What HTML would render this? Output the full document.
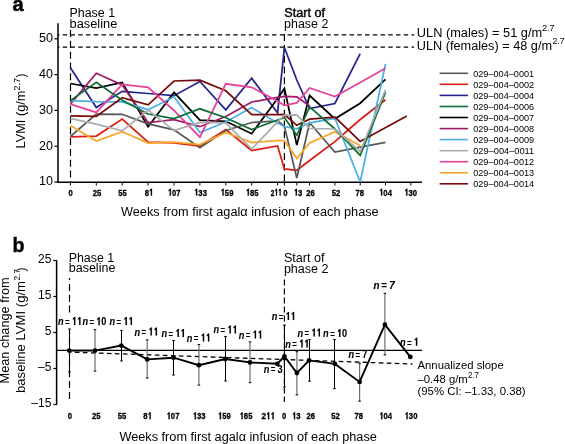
<!DOCTYPE html><html><head><meta charset="utf-8"><style>html,body{margin:0;padding:0;background:#fff;overflow:hidden}svg{display:block;will-change:transform}text{font-family:"Liberation Sans",sans-serif;fill:#000}</style></head><body>
<svg width="565" height="444" viewBox="0 0 565 444">
<rect width="565" height="444" fill="#fff"/>
<text x="12.4" y="10.5" font-size="20.5" font-weight="bold" textLength="11.2" lengthAdjust="spacingAndGlyphs" stroke="#111" stroke-width="0.5">a</text>
<path d="M58 23.2V182.2H422" fill="none" stroke="#000" stroke-width="1.5"/>
<path d="M54.4 182.0H58" stroke="#000" stroke-width="1.2"/>
<text x="53" y="185.4" font-size="12" text-anchor="end" textLength="14.0" lengthAdjust="spacingAndGlyphs">10</text>
<path d="M54.4 146.2H58" stroke="#000" stroke-width="1.2"/>
<text x="53" y="149.6" font-size="12" text-anchor="end" textLength="14.0" lengthAdjust="spacingAndGlyphs">20</text>
<path d="M54.4 110.4H58" stroke="#000" stroke-width="1.2"/>
<text x="53" y="113.8" font-size="12" text-anchor="end" textLength="14.0" lengthAdjust="spacingAndGlyphs">30</text>
<path d="M54.4 74.6H58" stroke="#000" stroke-width="1.2"/>
<text x="53" y="78.0" font-size="12" text-anchor="end" textLength="14.0" lengthAdjust="spacingAndGlyphs">40</text>
<path d="M54.4 38.8H58" stroke="#000" stroke-width="1.2"/>
<text x="53" y="42.2" font-size="12" text-anchor="end" textLength="14.0" lengthAdjust="spacingAndGlyphs">50</text>
<path d="M70.4 182V185.5" stroke="#000" stroke-width="1"/>
<g transform="translate(70.60,195.60) scale(0.8,1)" fill="#000" stroke="#000" stroke-width="0.3"><text x="-2.67" y="0" font-size="9.6" font-weight="bold">0</text></g>
<path d="M96.3 182V185.5" stroke="#000" stroke-width="1"/>
<g transform="translate(97.00,195.60) scale(0.8,1)" fill="#000" stroke="#000" stroke-width="0.3"><text x="-5.34" y="0" font-size="9.6" font-weight="bold">2</text><text x="0.00" y="0" font-size="9.6" font-weight="bold">5</text></g>
<path d="M122.2 182V185.5" stroke="#000" stroke-width="1"/>
<g transform="translate(122.60,195.60) scale(0.8,1)" fill="#000" stroke="#000" stroke-width="0.3"><text x="-5.34" y="0" font-size="9.6" font-weight="bold">5</text><text x="0.00" y="0" font-size="9.6" font-weight="bold">5</text></g>
<path d="M148.1 182V185.5" stroke="#000" stroke-width="1"/>
<g transform="translate(148.90,195.60) scale(0.8,1)" fill="#000" stroke="#000" stroke-width="0.3"><text x="-5.34" y="0" font-size="9.6" font-weight="bold">8</text><path d="M2.40 0.00 L3.84 0.00 L3.84 -6.87 L2.78 -6.87 L1.15 -5.57 L1.15 -4.42 L2.40 -5.09Z"/></g>
<path d="M174.0 182V185.5" stroke="#000" stroke-width="1"/>
<g transform="translate(174.20,195.60) scale(0.8,1)" fill="#000" stroke="#000" stroke-width="0.3"><path d="M-5.61 0.00 L-4.17 0.00 L-4.17 -6.87 L-5.22 -6.87 L-6.85 -5.57 L-6.85 -4.42 L-5.61 -5.09Z"/><text x="-2.67" y="0" font-size="9.6" font-weight="bold">0</text><text x="2.67" y="0" font-size="9.6" font-weight="bold">7</text></g>
<path d="M199.9 182V185.5" stroke="#000" stroke-width="1"/>
<g transform="translate(200.50,195.60) scale(0.8,1)" fill="#000" stroke="#000" stroke-width="0.3"><path d="M-5.61 0.00 L-4.17 0.00 L-4.17 -6.87 L-5.22 -6.87 L-6.85 -5.57 L-6.85 -4.42 L-5.61 -5.09Z"/><text x="-2.67" y="0" font-size="9.6" font-weight="bold">3</text><text x="2.67" y="0" font-size="9.6" font-weight="bold">3</text></g>
<path d="M225.8 182V185.5" stroke="#000" stroke-width="1"/>
<g transform="translate(227.00,195.60) scale(0.8,1)" fill="#000" stroke="#000" stroke-width="0.3"><path d="M-5.61 0.00 L-4.17 0.00 L-4.17 -6.87 L-5.22 -6.87 L-6.85 -5.57 L-6.85 -4.42 L-5.61 -5.09Z"/><text x="-2.67" y="0" font-size="9.6" font-weight="bold">5</text><text x="2.67" y="0" font-size="9.6" font-weight="bold">9</text></g>
<path d="M251.7 182V185.5" stroke="#000" stroke-width="1"/>
<g transform="translate(252.20,195.60) scale(0.8,1)" fill="#000" stroke="#000" stroke-width="0.3"><path d="M-5.61 0.00 L-4.17 0.00 L-4.17 -6.87 L-5.22 -6.87 L-6.85 -5.57 L-6.85 -4.42 L-5.61 -5.09Z"/><text x="-2.67" y="0" font-size="9.6" font-weight="bold">8</text><text x="2.67" y="0" font-size="9.6" font-weight="bold">5</text></g>
<path d="M277.6 182V185.5" stroke="#000" stroke-width="1"/>
<g transform="translate(276.20,195.60) scale(0.68,1)" fill="#000" stroke="#000" stroke-width="0.3"><text x="-8.01" y="0" font-size="9.6" font-weight="bold">2</text><path d="M-0.27 0.00 L1.17 0.00 L1.17 -6.87 L0.12 -6.87 L-1.52 -5.57 L-1.52 -4.42 L-0.27 -5.09Z"/><path d="M5.07 0.00 L6.51 0.00 L6.51 -6.87 L5.45 -6.87 L3.82 -5.57 L3.82 -4.42 L5.07 -5.09Z"/></g>
<path d="M284.4 182V185.5" stroke="#000" stroke-width="1"/>
<g transform="translate(285.30,195.60) scale(0.8,1)" fill="#000" stroke="#000" stroke-width="0.3"><text x="-2.67" y="0" font-size="9.6" font-weight="bold">0</text></g>
<path d="M296.8 182V185.5" stroke="#000" stroke-width="1"/>
<g transform="translate(298.10,195.60) scale(0.8,1)" fill="#000" stroke="#000" stroke-width="0.3"><path d="M-2.94 0.00 L-1.50 0.00 L-1.50 -6.87 L-2.55 -6.87 L-4.19 -5.57 L-4.19 -4.42 L-2.94 -5.09Z"/><text x="0.00" y="0" font-size="9.6" font-weight="bold">3</text></g>
<path d="M309.6 182V185.5" stroke="#000" stroke-width="1"/>
<g transform="translate(310.50,195.60) scale(0.8,1)" fill="#000" stroke="#000" stroke-width="0.3"><text x="-5.34" y="0" font-size="9.6" font-weight="bold">2</text><text x="0.00" y="0" font-size="9.6" font-weight="bold">6</text></g>
<path d="M334.9 182V185.5" stroke="#000" stroke-width="1"/>
<g transform="translate(335.90,195.60) scale(0.8,1)" fill="#000" stroke="#000" stroke-width="0.3"><text x="-5.34" y="0" font-size="9.6" font-weight="bold">5</text><text x="0.00" y="0" font-size="9.6" font-weight="bold">2</text></g>
<path d="M360.2 182V185.5" stroke="#000" stroke-width="1"/>
<g transform="translate(359.80,195.60) scale(0.8,1)" fill="#000" stroke="#000" stroke-width="0.3"><text x="-5.34" y="0" font-size="9.6" font-weight="bold">7</text><text x="0.00" y="0" font-size="9.6" font-weight="bold">8</text></g>
<path d="M385.5 182V185.5" stroke="#000" stroke-width="1"/>
<g transform="translate(385.50,195.60) scale(0.8,1)" fill="#000" stroke="#000" stroke-width="0.3"><path d="M-5.61 0.00 L-4.17 0.00 L-4.17 -6.87 L-5.22 -6.87 L-6.85 -5.57 L-6.85 -4.42 L-5.61 -5.09Z"/><text x="-2.67" y="0" font-size="9.6" font-weight="bold">0</text><text x="2.67" y="0" font-size="9.6" font-weight="bold">4</text></g>
<path d="M410.8 182V185.5" stroke="#000" stroke-width="1"/>
<g transform="translate(410.70,195.60) scale(0.8,1)" fill="#000" stroke="#000" stroke-width="0.3"><path d="M-5.61 0.00 L-4.17 0.00 L-4.17 -6.87 L-5.22 -6.87 L-6.85 -5.57 L-6.85 -4.42 L-5.61 -5.09Z"/><text x="-2.67" y="0" font-size="9.6" font-weight="bold">3</text><text x="2.67" y="0" font-size="9.6" font-weight="bold">0</text></g>
<path d="M58 34.9H414.1M58 47.2H414.1" stroke="#000" stroke-width="1.3" stroke-dasharray="4.4 3.35" stroke-dashoffset="2.95"/>
<path d="M70.5 29.8V182" stroke="#000" stroke-width="1.2" stroke-dasharray="7 3.8" stroke-dashoffset="10.5"/><path d="M284.4 31.6V182" stroke="#000" stroke-width="1.2" stroke-dasharray="7 3.8" stroke-dashoffset="8.3"/>
<path d="M70.4 67.7 L96.3 107.6 L122.2 91.3 L148.1 93.5 L174.0 95.7 L199.9 81.5 L225.8 109.8 L251.7 78.2 L277.6 112.9 L284.4 47.5 L296.8 80.0 L309.6 108.5 L334.9 103.5 L360.2 53.6" fill="none" stroke="#26248f" stroke-width="1.75" stroke-linejoin="miter" stroke-miterlimit="3"/>
<path d="M70.4 83.5 L96.3 88.0 L122.2 82.4 L148.1 126.7 L174.0 92.4 L199.9 120.2 L225.8 121.3 L251.7 133.7 L277.6 98.5 L284.4 88.5 L296.8 145.1 L309.6 95.5 L334.9 118.8 L360.2 103.2 L385.5 79.4" fill="none" stroke="#000000" stroke-width="1.75" stroke-linejoin="miter" stroke-miterlimit="3"/>
<path d="M70.4 136.9 L96.3 136.1 L122.2 119.0 L148.1 142.1 L174.0 142.8 L199.9 146.0 L225.8 129.6 L251.7 150.5 L277.6 145.9 L284.4 168.9 L296.8 170.3 L309.6 160.5 L334.9 141.6 L360.2 119.5 L385.5 99.8" fill="none" stroke="#dc1d12" stroke-width="1.75" stroke-linejoin="miter" stroke-miterlimit="3"/>
<path d="M70.4 136.5 L96.3 114.1 L122.2 114.3 L148.1 123.9 L174.0 129.8 L199.9 147.7 L225.8 130.5 L251.7 122.5 L277.6 120.9 L284.4 126.2 L296.8 178.0 L309.6 122.8 L334.9 152.1 L360.2 147.2 L385.5 142.4" fill="none" stroke="#585858" stroke-width="1.75" stroke-linejoin="miter" stroke-miterlimit="3"/>
<path d="M70.4 104.1 L96.3 73.3 L122.2 84.9 L148.1 122.5 L174.0 119.7 L199.9 126.7 L225.8 116.5 L251.7 102.0 L277.6 97.3 L284.4 96.3 L296.8 96.9 L309.6 106.0" fill="none" stroke="#9e1a66" stroke-width="1.75" stroke-linejoin="miter" stroke-miterlimit="3"/>
<path d="M70.4 100.6 L96.3 101.7 L122.2 101.9 L148.1 109.7 L174.0 96.8 L199.9 132.5 L225.8 122.0 L251.7 107.6 L277.6 123.0 L284.4 126.5 L296.8 128.8 L309.6 122.8 L334.9 118.3 L360.2 182.0 L385.5 64.0" fill="none" stroke="#4caee4" stroke-width="1.75" stroke-linejoin="miter" stroke-miterlimit="3"/>
<path d="M70.4 115.8 L96.3 116.4 L122.2 97.7 L148.1 104.8 L174.0 81.0 L199.9 80.2 L225.8 90.8 L251.7 114.7 L277.6 114.6 L284.4 114.5 L296.8 125.3 L309.6 119.2 L334.9 117.1 L360.2 141.4 L406.8 116.0" fill="none" stroke="#780a0a" stroke-width="1.75" stroke-linejoin="miter" stroke-miterlimit="3"/>
<path d="M70.4 104.1 L96.3 112.4 L122.2 84.5 L148.1 87.3 L174.0 110.5 L199.9 137.2 L225.8 83.8 L251.7 87.3 L277.6 101.3 L284.4 105.3 L296.8 102.9 L309.6 88.0 L334.9 96.6 L360.2 82.4 L385.5 68.2" fill="none" stroke="#e4449a" stroke-width="1.75" stroke-linejoin="miter" stroke-miterlimit="3"/>
<path d="M70.4 125.6 L96.3 141.0 L122.2 131.6 L148.1 143.0 L174.0 142.1 L199.9 144.5 L225.8 132.5 L251.7 142.5 L277.6 140.7 L284.4 140.7 L296.8 158.6 L309.6 143.0 L334.9 131.8 L360.2 145.5" fill="none" stroke="#f8a628" stroke-width="1.75" stroke-linejoin="miter" stroke-miterlimit="3"/>
<path d="M70.4 100.6 L96.3 82.4 L122.2 100.3 L148.1 114.0 L174.0 118.6 L199.9 108.8 L225.8 117.7 L251.7 129.5 L277.6 120.0 L284.4 117.6 L296.8 135.3 L309.6 106.9 L334.9 129.0 L360.2 155.3 L385.5 92.3" fill="none" stroke="#0f6e34" stroke-width="1.75" stroke-linejoin="miter" stroke-miterlimit="3"/>
<path d="M70.4 118.3 L96.3 124.2 L122.2 130.9 L148.1 110.1 L174.0 130.6 L199.9 122.5 L225.8 122.8 L251.7 149.0 L277.6 121.9 L284.4 115.1 L296.8 114.8 L309.6 128.5 L334.9 129.0 L360.2 151.5 L385.5 89.9" fill="none" stroke="#acacac" stroke-width="1.75" stroke-linejoin="miter" stroke-miterlimit="3"/>
<text x="69.5" y="16.7" font-size="12" textLength="45.6" lengthAdjust="spacingAndGlyphs">Phase 1</text>
<text x="69.5" y="27.6" font-size="12" textLength="47.8" lengthAdjust="spacingAndGlyphs">baseline</text>
<text x="284.2" y="16.6" font-size="12" textLength="40.8" lengthAdjust="spacingAndGlyphs" stroke="#111" stroke-width="0.45">Start of</text>
<text x="284.1" y="27.6" font-size="12" textLength="44.2" lengthAdjust="spacingAndGlyphs">phase 2</text>
<text x="416.8" y="36.6" font-size="12" textLength="125.3" lengthAdjust="spacingAndGlyphs">ULN (males) = 51 g/m</text>
<text x="541.9" y="31.2" font-size="8.6" textLength="12.8" lengthAdjust="spacingAndGlyphs">2.7</text>
<text x="416.8" y="49.9" font-size="12" textLength="135.2" lengthAdjust="spacingAndGlyphs">ULN (females) = 48 g/m</text>
<text x="552.6" y="44.2" font-size="8.6" textLength="11.9" lengthAdjust="spacingAndGlyphs">2.7</text>
<path d="M439.6 73.3H468.1" stroke="#585858" stroke-width="1.6"/>
<text x="473.2" y="76.6" font-size="9" textLength="61" lengthAdjust="spacingAndGlyphs">029–004–0001</text>
<path d="M439.6 84.3H468.1" stroke="#dc1d12" stroke-width="1.6"/>
<text x="473.2" y="87.6" font-size="9" textLength="61" lengthAdjust="spacingAndGlyphs">029–004–0002</text>
<path d="M439.6 95.4H468.1" stroke="#26248f" stroke-width="1.6"/>
<text x="473.2" y="98.7" font-size="9" textLength="61" lengthAdjust="spacingAndGlyphs">029–004–0004</text>
<path d="M439.6 106.5H468.1" stroke="#0f6e34" stroke-width="1.6"/>
<text x="473.2" y="109.8" font-size="9" textLength="61" lengthAdjust="spacingAndGlyphs">029–004–0006</text>
<path d="M439.6 117.5H468.1" stroke="#000000" stroke-width="1.6"/>
<text x="473.2" y="120.8" font-size="9" textLength="61" lengthAdjust="spacingAndGlyphs">029–004–0007</text>
<path d="M439.6 128.6H468.1" stroke="#9e1a66" stroke-width="1.6"/>
<text x="473.2" y="131.9" font-size="9" textLength="61" lengthAdjust="spacingAndGlyphs">029–004–0008</text>
<path d="M439.6 139.6H468.1" stroke="#4caee4" stroke-width="1.6"/>
<text x="473.2" y="142.9" font-size="9" textLength="61" lengthAdjust="spacingAndGlyphs">029–004–0009</text>
<path d="M439.6 150.7H468.1" stroke="#acacac" stroke-width="1.6"/>
<text x="473.2" y="154.0" font-size="9" textLength="61" lengthAdjust="spacingAndGlyphs">029–004–0011</text>
<path d="M439.6 161.7H468.1" stroke="#e4449a" stroke-width="1.6"/>
<text x="473.2" y="165.0" font-size="9" textLength="61" lengthAdjust="spacingAndGlyphs">029–004–0012</text>
<path d="M439.6 172.8H468.1" stroke="#f8a628" stroke-width="1.6"/>
<text x="473.2" y="176.1" font-size="9" textLength="61" lengthAdjust="spacingAndGlyphs">029–004–0013</text>
<path d="M439.6 183.8H468.1" stroke="#780a0a" stroke-width="1.6"/>
<text x="473.2" y="187.1" font-size="9" textLength="61" lengthAdjust="spacingAndGlyphs">029–004–0014</text>
<text transform="translate(24.5,148.4) rotate(-90)" font-size="12.4" textLength="57.8" lengthAdjust="spacingAndGlyphs">LVMI (g/m</text>
<text transform="translate(19.7,90.4) rotate(-90)" font-size="9" textLength="12.4" lengthAdjust="spacingAndGlyphs">2.7</text>
<text transform="translate(24.5,77.5) rotate(-90)" font-size="12.4">)</text>
<text x="121" y="215.9" font-size="12" textLength="257.7" lengthAdjust="spacingAndGlyphs">Weeks from first agalα infusion of each phase</text>
<text x="12.4" y="251.6" font-size="20" font-weight="bold" textLength="12" lengthAdjust="spacingAndGlyphs" stroke="#111" stroke-width="0.4">b</text>
<path d="M56.6 260.3V405" fill="none" stroke="#000" stroke-width="1.5"/>
<path d="M53.3 260.5H56.6" stroke="#000" stroke-width="1.2"/>
<text x="51.4" y="262.8" font-size="12" text-anchor="end">25</text>
<path d="M53.3 296.5H56.6" stroke="#000" stroke-width="1.2"/>
<text x="51.4" y="298.8" font-size="12" text-anchor="end">15</text>
<path d="M53.3 332.5H56.6" stroke="#000" stroke-width="1.2"/>
<text x="51.4" y="334.8" font-size="12" text-anchor="end">5</text>
<path d="M53.3 368.5H56.6" stroke="#000" stroke-width="1.2"/>
<text x="51.4" y="370.8" font-size="12" text-anchor="end">–5</text>
<path d="M53.3 404.5H56.6" stroke="#000" stroke-width="1.2"/>
<text x="51.4" y="406.8" font-size="12" text-anchor="end">–15</text>
<g transform="translate(69.80,419.20) scale(0.8,1)" fill="#000" stroke="#000" stroke-width="0.3"><text x="-2.67" y="0" font-size="9.6" font-weight="bold">0</text></g>
<g transform="translate(96.20,419.20) scale(0.8,1)" fill="#000" stroke="#000" stroke-width="0.3"><text x="-5.34" y="0" font-size="9.6" font-weight="bold">2</text><text x="0.00" y="0" font-size="9.6" font-weight="bold">5</text></g>
<g transform="translate(121.90,419.20) scale(0.8,1)" fill="#000" stroke="#000" stroke-width="0.3"><text x="-5.34" y="0" font-size="9.6" font-weight="bold">5</text><text x="0.00" y="0" font-size="9.6" font-weight="bold">5</text></g>
<g transform="translate(147.60,419.20) scale(0.8,1)" fill="#000" stroke="#000" stroke-width="0.3"><text x="-5.34" y="0" font-size="9.6" font-weight="bold">8</text><path d="M2.40 0.00 L3.84 0.00 L3.84 -6.87 L2.78 -6.87 L1.15 -5.57 L1.15 -4.42 L2.40 -5.09Z"/></g>
<g transform="translate(173.00,419.20) scale(0.8,1)" fill="#000" stroke="#000" stroke-width="0.3"><path d="M-5.61 0.00 L-4.17 0.00 L-4.17 -6.87 L-5.22 -6.87 L-6.85 -5.57 L-6.85 -4.42 L-5.61 -5.09Z"/><text x="-2.67" y="0" font-size="9.6" font-weight="bold">0</text><text x="2.67" y="0" font-size="9.6" font-weight="bold">7</text></g>
<g transform="translate(199.20,419.20) scale(0.8,1)" fill="#000" stroke="#000" stroke-width="0.3"><path d="M-5.61 0.00 L-4.17 0.00 L-4.17 -6.87 L-5.22 -6.87 L-6.85 -5.57 L-6.85 -4.42 L-5.61 -5.09Z"/><text x="-2.67" y="0" font-size="9.6" font-weight="bold">3</text><text x="2.67" y="0" font-size="9.6" font-weight="bold">3</text></g>
<g transform="translate(224.30,419.20) scale(0.8,1)" fill="#000" stroke="#000" stroke-width="0.3"><path d="M-5.61 0.00 L-4.17 0.00 L-4.17 -6.87 L-5.22 -6.87 L-6.85 -5.57 L-6.85 -4.42 L-5.61 -5.09Z"/><text x="-2.67" y="0" font-size="9.6" font-weight="bold">5</text><text x="2.67" y="0" font-size="9.6" font-weight="bold">9</text></g>
<g transform="translate(246.00,419.20) scale(0.8,1)" fill="#000" stroke="#000" stroke-width="0.3"><path d="M-5.61 0.00 L-4.17 0.00 L-4.17 -6.87 L-5.22 -6.87 L-6.85 -5.57 L-6.85 -4.42 L-5.61 -5.09Z"/><text x="-2.67" y="0" font-size="9.6" font-weight="bold">8</text><text x="2.67" y="0" font-size="9.6" font-weight="bold">5</text></g>
<g transform="translate(268.20,419.20) scale(0.84,1)" fill="#000" stroke="#000" stroke-width="0.3"><text x="-8.01" y="0" font-size="9.6" font-weight="bold">2</text><path d="M-0.27 0.00 L1.17 0.00 L1.17 -6.87 L0.12 -6.87 L-1.52 -5.57 L-1.52 -4.42 L-0.27 -5.09Z"/><path d="M5.07 0.00 L6.51 0.00 L6.51 -6.87 L5.45 -6.87 L3.82 -5.57 L3.82 -4.42 L5.07 -5.09Z"/></g>
<g transform="translate(284.20,419.20) scale(0.8,1)" fill="#000" stroke="#000" stroke-width="0.3"><text x="-2.67" y="0" font-size="9.6" font-weight="bold">0</text></g>
<g transform="translate(296.30,419.20) scale(0.8,1)" fill="#000" stroke="#000" stroke-width="0.3"><path d="M-2.94 0.00 L-1.50 0.00 L-1.50 -6.87 L-2.55 -6.87 L-4.19 -5.57 L-4.19 -4.42 L-2.94 -5.09Z"/><text x="0.00" y="0" font-size="9.6" font-weight="bold">3</text></g>
<g transform="translate(310.80,419.20) scale(0.8,1)" fill="#000" stroke="#000" stroke-width="0.3"><text x="-5.34" y="0" font-size="9.6" font-weight="bold">2</text><text x="0.00" y="0" font-size="9.6" font-weight="bold">6</text></g>
<g transform="translate(335.50,419.20) scale(0.8,1)" fill="#000" stroke="#000" stroke-width="0.3"><text x="-5.34" y="0" font-size="9.6" font-weight="bold">5</text><text x="0.00" y="0" font-size="9.6" font-weight="bold">2</text></g>
<g transform="translate(358.70,419.20) scale(0.8,1)" fill="#000" stroke="#000" stroke-width="0.3"><text x="-5.34" y="0" font-size="9.6" font-weight="bold">7</text><text x="0.00" y="0" font-size="9.6" font-weight="bold">8</text></g>
<g transform="translate(385.70,419.20) scale(0.8,1)" fill="#000" stroke="#000" stroke-width="0.3"><path d="M-5.61 0.00 L-4.17 0.00 L-4.17 -6.87 L-5.22 -6.87 L-6.85 -5.57 L-6.85 -4.42 L-5.61 -5.09Z"/><text x="-2.67" y="0" font-size="9.6" font-weight="bold">0</text><text x="2.67" y="0" font-size="9.6" font-weight="bold">4</text></g>
<g transform="translate(411.00,419.20) scale(0.8,1)" fill="#000" stroke="#000" stroke-width="0.3"><path d="M-5.61 0.00 L-4.17 0.00 L-4.17 -6.87 L-5.22 -6.87 L-6.85 -5.57 L-6.85 -4.42 L-5.61 -5.09Z"/><text x="-2.67" y="0" font-size="9.6" font-weight="bold">3</text><text x="2.67" y="0" font-size="9.6" font-weight="bold">0</text></g>
<path d="M69.5 278V313.3" stroke="#000" stroke-width="1.2" stroke-dasharray="7 3.8" stroke-dashoffset="4.9"/><path d="M69.5 329V402" stroke="#000" stroke-width="1.2" stroke-dasharray="7 3.8" stroke-dashoffset="1.9"/><path d="M284.4 279.5V402" stroke="#000" stroke-width="1.2" stroke-dasharray="6 3"/>
<path d="M56.6 350.4H422" stroke="#000" stroke-width="1.3"/>
<path d="M70 352.1L412.5 364.0" stroke="#000" stroke-width="1.3" stroke-dasharray="4.6 3.4" stroke-dashoffset="3.1"/>
<path d="M69.5 329.0V371.9" stroke="#000" stroke-width="1"/>
<path d="M68.2 329.0H70.8M68.2 371.9H70.8" stroke="#000" stroke-width="1"/>
<path d="M95.0 329.7V371.1" stroke="#6e6e6e" stroke-width="1.2"/>
<path d="M93.7 329.7H96.3M93.7 371.1H96.3" stroke="#000" stroke-width="1"/>
<path d="M121.5 330.4V361.0" stroke="#000" stroke-width="1"/>
<path d="M120.2 330.4H122.8M120.2 361.0H122.8" stroke="#000" stroke-width="1"/>
<path d="M147.2 339.9V378.0" stroke="#6e6e6e" stroke-width="1.2"/>
<path d="M145.9 339.9H148.5M145.9 378.0H148.5" stroke="#000" stroke-width="1"/>
<path d="M173.5 340.5V375.0" stroke="#000" stroke-width="1"/>
<path d="M172.2 340.5H174.8M172.2 375.0H174.8" stroke="#000" stroke-width="1"/>
<path d="M198.9 344.6V385.1" stroke="#6e6e6e" stroke-width="1.2"/>
<path d="M197.6 344.6H200.2M197.6 385.1H200.2" stroke="#000" stroke-width="1"/>
<path d="M225.5 336.5V381.0" stroke="#000" stroke-width="1"/>
<path d="M224.2 336.5H226.8M224.2 381.0H226.8" stroke="#000" stroke-width="1"/>
<path d="M250.0 341.9V382.7" stroke="#6e6e6e" stroke-width="1.2"/>
<path d="M248.7 341.9H251.3M248.7 382.7H251.3" stroke="#000" stroke-width="1"/>
<path d="M284.5 325.3V386.9" stroke="#000" stroke-width="1"/>
<path d="M283.2 325.3H285.8M283.2 386.9H285.8" stroke="#000" stroke-width="1"/>
<path d="M296.9 351.7V394.9" stroke="#6e6e6e" stroke-width="1.2"/>
<path d="M295.6 351.7H298.2M295.6 394.9H298.2" stroke="#000" stroke-width="1"/>
<path d="M309.5 339.5V381.2" stroke="#000" stroke-width="1"/>
<path d="M308.2 339.5H310.8M308.2 381.2H310.8" stroke="#000" stroke-width="1"/>
<path d="M334.5 339.6V388.7" stroke="#000" stroke-width="1"/>
<path d="M333.2 339.6H335.8M333.2 388.7H335.8" stroke="#000" stroke-width="1"/>
<path d="M359.6 363.1V401.2" stroke="#6e6e6e" stroke-width="1.2"/>
<path d="M358.3 363.1H360.9M358.3 401.2H360.9" stroke="#000" stroke-width="1"/>
<path d="M384.9 293.3V354.9" stroke="#6e6e6e" stroke-width="1.2"/>
<path d="M383.6 293.3H386.2M383.6 354.9H386.2" stroke="#000" stroke-width="1"/>
<path d="M69.2 350.6 L95.0 350.6 L121.3 345.6 L147.2 359.4 L173.6 357.7 L198.9 365.2 L225.2 359.0 L250.0 362.4 L277.3 363.8 L284.4 356.3 L296.9 373.0 L309.1 360.4 L334.9 363.9 L359.6 381.9 L384.9 324.7 L410.3 356.9" fill="none" stroke="#000" stroke-width="1.9" stroke-linejoin="miter"/>
<circle cx="69.2" cy="350.6" r="2.4" fill="#000"/>
<circle cx="95.0" cy="350.6" r="2.4" fill="#000"/>
<circle cx="121.3" cy="345.6" r="2.4" fill="#000"/>
<circle cx="147.2" cy="359.4" r="2.4" fill="#000"/>
<circle cx="173.6" cy="357.7" r="2.4" fill="#000"/>
<circle cx="198.9" cy="365.2" r="2.4" fill="#000"/>
<circle cx="225.2" cy="359.0" r="2.4" fill="#000"/>
<circle cx="250.0" cy="362.4" r="2.4" fill="#000"/>
<circle cx="277.3" cy="363.8" r="2.4" fill="#000"/>
<circle cx="284.4" cy="356.3" r="2.4" fill="#000"/>
<circle cx="296.9" cy="373.0" r="2.4" fill="#000"/>
<circle cx="309.1" cy="360.4" r="2.4" fill="#000"/>
<circle cx="334.9" cy="363.9" r="2.4" fill="#000"/>
<circle cx="359.6" cy="381.9" r="2.4" fill="#000"/>
<circle cx="384.9" cy="324.7" r="2.4" fill="#000"/>
<circle cx="410.3" cy="356.9" r="2.4" fill="#000"/>
<g transform="translate(58.50,324.90) scale(0.82,1)" fill="#000" stroke="#000" stroke-width="0.12"><text x="-0.6" y="0" font-size="11.2" font-weight="bold" font-style="italic">n</text><text x="8.03" y="-0.2" font-size="9.63" font-weight="bold">=</text><path d="M18.90 0.00 L20.58 0.00 L20.58 -8.02 L19.35 -8.02 L17.44 -6.50 L17.44 -5.15 L18.90 -5.94Z"/><path d="M25.13 0.00 L26.81 0.00 L26.81 -8.02 L25.58 -8.02 L23.67 -6.50 L23.67 -5.15 L25.13 -5.94Z"/></g>
<g transform="translate(82.90,325.30) scale(0.82,1)" fill="#000" stroke="#000" stroke-width="0.12"><text x="-0.6" y="0" font-size="11.2" font-weight="bold" font-style="italic">n</text><text x="8.03" y="-0.2" font-size="9.63" font-weight="bold">=</text><path d="M18.90 0.00 L20.58 0.00 L20.58 -8.02 L19.35 -8.02 L17.44 -6.50 L17.44 -5.15 L18.90 -5.94Z"/><text x="22.33" y="0" font-size="11.2" font-weight="bold">0</text></g>
<g transform="translate(110.00,325.00) scale(0.82,1)" fill="#000" stroke="#000" stroke-width="0.12"><text x="-0.6" y="0" font-size="11.2" font-weight="bold" font-style="italic">n</text><text x="8.03" y="-0.2" font-size="9.63" font-weight="bold">=</text><path d="M18.90 0.00 L20.58 0.00 L20.58 -8.02 L19.35 -8.02 L17.44 -6.50 L17.44 -5.15 L18.90 -5.94Z"/><path d="M25.13 0.00 L26.81 0.00 L26.81 -8.02 L25.58 -8.02 L23.67 -6.50 L23.67 -5.15 L25.13 -5.94Z"/></g>
<g transform="translate(135.00,335.50) scale(0.82,1)" fill="#000" stroke="#000" stroke-width="0.12"><text x="-0.6" y="0" font-size="11.2" font-weight="bold" font-style="italic">n</text><text x="8.03" y="-0.2" font-size="9.63" font-weight="bold">=</text><path d="M18.90 0.00 L20.58 0.00 L20.58 -8.02 L19.35 -8.02 L17.44 -6.50 L17.44 -5.15 L18.90 -5.94Z"/><path d="M25.13 0.00 L26.81 0.00 L26.81 -8.02 L25.58 -8.02 L23.67 -6.50 L23.67 -5.15 L25.13 -5.94Z"/></g>
<g transform="translate(162.00,337.00) scale(0.82,1)" fill="#000" stroke="#000" stroke-width="0.12"><text x="-0.6" y="0" font-size="11.2" font-weight="bold" font-style="italic">n</text><text x="8.03" y="-0.2" font-size="9.63" font-weight="bold">=</text><path d="M18.90 0.00 L20.58 0.00 L20.58 -8.02 L19.35 -8.02 L17.44 -6.50 L17.44 -5.15 L18.90 -5.94Z"/><path d="M25.13 0.00 L26.81 0.00 L26.81 -8.02 L25.58 -8.02 L23.67 -6.50 L23.67 -5.15 L25.13 -5.94Z"/></g>
<g transform="translate(187.30,341.50) scale(0.82,1)" fill="#000" stroke="#000" stroke-width="0.12"><text x="-0.6" y="0" font-size="11.2" font-weight="bold" font-style="italic">n</text><text x="8.03" y="-0.2" font-size="9.63" font-weight="bold">=</text><path d="M18.90 0.00 L20.58 0.00 L20.58 -8.02 L19.35 -8.02 L17.44 -6.50 L17.44 -5.15 L18.90 -5.94Z"/><path d="M25.13 0.00 L26.81 0.00 L26.81 -8.02 L25.58 -8.02 L23.67 -6.50 L23.67 -5.15 L25.13 -5.94Z"/></g>
<g transform="translate(214.00,333.40) scale(0.82,1)" fill="#000" stroke="#000" stroke-width="0.12"><text x="-0.6" y="0" font-size="11.2" font-weight="bold" font-style="italic">n</text><text x="8.03" y="-0.2" font-size="9.63" font-weight="bold">=</text><path d="M18.90 0.00 L20.58 0.00 L20.58 -8.02 L19.35 -8.02 L17.44 -6.50 L17.44 -5.15 L18.90 -5.94Z"/><path d="M25.13 0.00 L26.81 0.00 L26.81 -8.02 L25.58 -8.02 L23.67 -6.50 L23.67 -5.15 L25.13 -5.94Z"/></g>
<g transform="translate(239.20,338.50) scale(0.82,1)" fill="#000" stroke="#000" stroke-width="0.12"><text x="-0.6" y="0" font-size="11.2" font-weight="bold" font-style="italic">n</text><text x="8.03" y="-0.2" font-size="9.63" font-weight="bold">=</text><path d="M18.90 0.00 L20.58 0.00 L20.58 -8.02 L19.35 -8.02 L17.44 -6.50 L17.44 -5.15 L18.90 -5.94Z"/><path d="M25.13 0.00 L26.81 0.00 L26.81 -8.02 L25.58 -8.02 L23.67 -6.50 L23.67 -5.15 L25.13 -5.94Z"/></g>
<g transform="translate(264.30,372.60) scale(0.82,1)" fill="#000" stroke="#000" stroke-width="0.12"><text x="-0.6" y="0" font-size="11.2" font-weight="bold" font-style="italic">n</text><text x="8.03" y="-0.2" font-size="9.63" font-weight="bold">=</text><text x="16.10" y="0" font-size="11.2" font-weight="bold">3</text></g>
<g transform="translate(272.20,319.90) scale(0.82,1)" fill="#000" stroke="#000" stroke-width="0.12"><text x="-0.6" y="0" font-size="11.2" font-weight="bold" font-style="italic">n</text><text x="8.03" y="-0.2" font-size="9.63" font-weight="bold">=</text><path d="M18.90 0.00 L20.58 0.00 L20.58 -8.02 L19.35 -8.02 L17.44 -6.50 L17.44 -5.15 L18.90 -5.94Z"/><path d="M25.13 0.00 L26.81 0.00 L26.81 -8.02 L25.58 -8.02 L23.67 -6.50 L23.67 -5.15 L25.13 -5.94Z"/></g>
<g transform="translate(285.80,347.60) scale(0.82,1)" fill="#000" stroke="#000" stroke-width="0.12"><text x="-0.6" y="0" font-size="11.2" font-weight="bold" font-style="italic">n</text><text x="8.03" y="-0.2" font-size="9.63" font-weight="bold">=</text><path d="M18.90 0.00 L20.58 0.00 L20.58 -8.02 L19.35 -8.02 L17.44 -6.50 L17.44 -5.15 L18.90 -5.94Z"/><path d="M25.13 0.00 L26.81 0.00 L26.81 -8.02 L25.58 -8.02 L23.67 -6.50 L23.67 -5.15 L25.13 -5.94Z"/></g>
<g transform="translate(298.00,336.50) scale(0.82,1)" fill="#000" stroke="#000" stroke-width="0.12"><text x="-0.6" y="0" font-size="11.2" font-weight="bold" font-style="italic">n</text><text x="8.03" y="-0.2" font-size="9.63" font-weight="bold">=</text><path d="M18.90 0.00 L20.58 0.00 L20.58 -8.02 L19.35 -8.02 L17.44 -6.50 L17.44 -5.15 L18.90 -5.94Z"/><path d="M25.13 0.00 L26.81 0.00 L26.81 -8.02 L25.58 -8.02 L23.67 -6.50 L23.67 -5.15 L25.13 -5.94Z"/></g>
<g transform="translate(323.60,337.10) scale(0.82,1)" fill="#000" stroke="#000" stroke-width="0.12"><text x="-0.6" y="0" font-size="11.2" font-weight="bold" font-style="italic">n</text><text x="8.03" y="-0.2" font-size="9.63" font-weight="bold">=</text><path d="M18.90 0.00 L20.58 0.00 L20.58 -8.02 L19.35 -8.02 L17.44 -6.50 L17.44 -5.15 L18.90 -5.94Z"/><text x="22.33" y="0" font-size="11.2" font-weight="bold">0</text></g>
<g transform="translate(349.00,358.00) scale(0.82,1)" fill="#000" stroke="#000" stroke-width="0.12"><text x="-0.6" y="0" font-size="11.2" font-weight="bold" font-style="italic">n</text><text x="8.03" y="-0.2" font-size="9.63" font-weight="bold">=</text><text x="16.10" y="0" font-size="11.2" font-weight="bold">7</text></g>
<g transform="translate(400.40,345.70) scale(0.82,1)" fill="#000" stroke="#000" stroke-width="0.12"><text x="-0.6" y="0" font-size="11.2" font-weight="bold" font-style="italic">n</text><text x="8.03" y="-0.2" font-size="9.63" font-weight="bold">=</text><path d="M18.90 0.00 L20.58 0.00 L20.58 -8.02 L19.35 -8.02 L17.44 -6.50 L17.44 -5.15 L18.90 -5.94Z"/></g>
<g transform="translate(374.00,288.90) scale(0.95,1)" fill="#000" stroke="#000" stroke-width="0.12"><text x="-0.6" y="0" font-size="10.4" font-weight="bold" font-style="italic">n</text><text x="7.70" y="-0.2" font-size="10.40" font-weight="bold">=</text><text x="16.00" y="0" font-size="10.4" font-weight="bold" font-style="italic">7</text></g>
<text x="68.7" y="262.3" font-size="12" textLength="45.4" lengthAdjust="spacingAndGlyphs">Phase 1</text>
<text x="68.7" y="272.4" font-size="12" textLength="46.7" lengthAdjust="spacingAndGlyphs">baseline</text>
<text x="283.9" y="262.0" font-size="12" textLength="40.6" lengthAdjust="spacingAndGlyphs">Start of</text>
<text x="283.9" y="273.0" font-size="12" textLength="44.6" lengthAdjust="spacingAndGlyphs">phase 2</text>
<text x="417.5" y="369.2" font-size="11.3" textLength="86.2" lengthAdjust="spacingAndGlyphs">Annualized slope</text>
<text x="417.5" y="382.8" font-size="11.3" textLength="50.3" lengthAdjust="spacingAndGlyphs">–0.48 g/m</text>
<text x="467.9" y="378" font-size="8.3" textLength="11" lengthAdjust="spacingAndGlyphs">2.7</text>
<text x="417.5" y="394.9" font-size="11.3" textLength="108.1" lengthAdjust="spacingAndGlyphs">(95% CI: –1.33, 0.38)</text>
<text transform="translate(8.8,383.4) rotate(-90)" font-size="12.4" textLength="106" lengthAdjust="spacingAndGlyphs">Mean change from</text>
<text transform="translate(25.1,393) rotate(-90)" font-size="12.4" textLength="112" lengthAdjust="spacingAndGlyphs">baseline LVMI (g/m</text>
<text transform="translate(20.3,280.6) rotate(-90)" font-size="9" textLength="11.6" lengthAdjust="spacingAndGlyphs">2.7</text>
<text transform="translate(25.1,271.4) rotate(-90)" font-size="12.4">)</text>
<text x="119.4" y="441" font-size="12" textLength="257.5" lengthAdjust="spacingAndGlyphs">Weeks from first agalα infusion of each phase</text>
</svg></body></html>
